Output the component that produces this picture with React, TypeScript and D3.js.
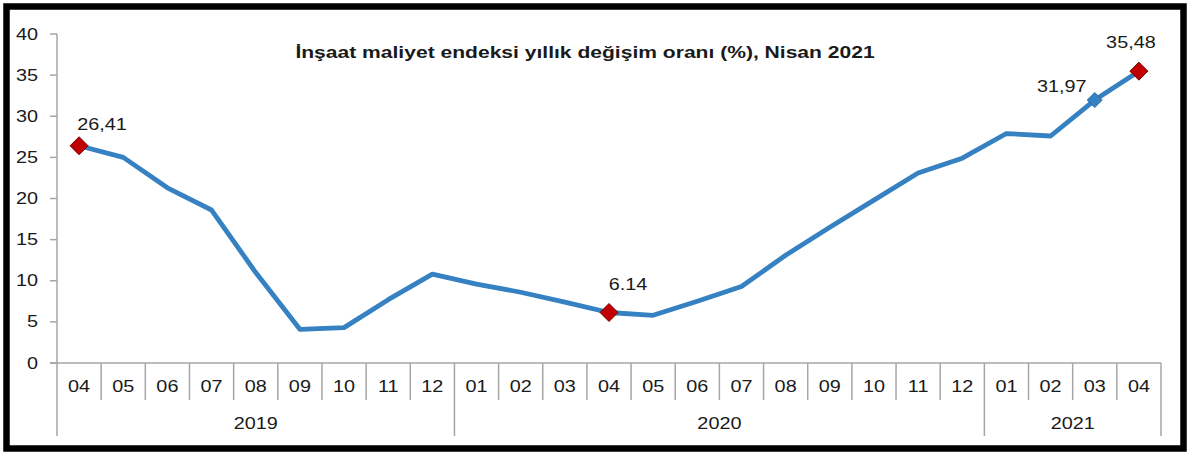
import * as d3 from "d3";

const periods = [
  "2019-04", "2019-05", "2019-06", "2019-07", "2019-08", "2019-09", "2019-10", "2019-11", "2019-12",
  "2020-01", "2020-02", "2020-03", "2020-04", "2020-05", "2020-06", "2020-07", "2020-08", "2020-09",
  "2020-10", "2020-11", "2020-12",
  "2021-01", "2021-02", "2021-03", "2021-04",
];
const values = [
  26.41, 25.0, 21.3, 18.6, 11.0, 4.1, 4.3, 7.7, 10.8,
  9.6, 8.6, 7.4, 6.14, 5.8, 7.5, 9.3, 13.1, 16.5,
  19.8, 23.1, 24.9,
  27.9, 27.6, 31.97, 35.48,
];
const yTicks = [0, 5, 10, 15, 20, 25, 30, 35, 40];
const years = ["2019", "2020", "2021"];

// highlighted points: index, marker colour, label text, label offset
const callouts = [
  { i: 0, fill: "#C00000", text: "26,41", dx: 23, dy: -16 },
  { i: 12, fill: "#C00000", text: "6.14", dx: 19, dy: -22 },
  { i: 23, fill: "#3581C2", text: "31,97", dx: -33, dy: -8 },
  { i: 24, fill: "#C00000", text: "35,48", dx: -8, dy: -23 },
];

const W = 1200;
const H = 468;
const left = 57;
const right = 1161;
const top = 34;
const bottom = 363;
const FONT = "Arial, 'Liberation Sans', sans-serif";
const SX = 1.24; // the source picture is stretched sideways
const AXIS = "#A6A6A6";

function Txt({ x, y, children, anchor = "middle", size = 16, weight = 400 }: any) {
  return (
    <text
      transform={`translate(${x},${y}) scale(${SX},1)`}
      textAnchor={anchor}
      fontSize={size}
      fontWeight={weight}
      fontFamily={FONT}
      fill="#1a1a1a"
    >
      {children}
    </text>
  );
}

export default function App() {
  const x = d3.scaleBand<string>().domain(periods).range([left, right]).padding(0);
  const y = d3.scaleLinear().domain([0, 40]).range([bottom, top]);
  const bw = x.bandwidth();
  const cx = (i: number) => (x(periods[i]) as number) + bw / 2;

  const line = d3
    .line<number>()
    .x((_, i) => cx(i))
    .y((d) => y(d));

  const isYearStart = (i: number) => i === 0 || periods[i].endsWith("-01");

  const yearGroups = years.map((yr) => {
    const idx = periods.map((p, i) => (p.startsWith(yr) ? i : -1)).filter((i) => i >= 0);
    const x0 = x(periods[idx[0]]) as number;
    const x1 = (x(periods[idx[idx.length - 1]]) as number) + bw;
    return { yr, mid: (x0 + x1) / 2 };
  });

  const diamond = (px: number, py: number, r: number) =>
    `M${px},${py - r}L${px + r},${py}L${px},${py + r}L${px - r},${py}Z`;

  return (
    <svg
      width={W}
      height={H}
      style={{ position: "absolute", left: 0, top: 0, background: "#fff" }}
    >
      <rect x={6.5} y={6.5} width={1177} height={442} fill="#fff" stroke="#000" strokeWidth={6.5} />

      <Txt x={585} y={58} size={17} weight={700}>
        İnşaat maliyet endeksi yıllık değişim oranı (%), Nisan 2021
      </Txt>

      {/* y axis */}
      <line x1={left} x2={left} y1={top} y2={bottom} stroke={AXIS} strokeWidth={1.5} />
      {yTicks.map((t) => (
        <g key={t}>
          <line x1={left - 7} x2={left} y1={y(t)} y2={y(t)} stroke={AXIS} strokeWidth={1.5} />
          <Txt x={38} y={y(t) + 5.5} anchor="end">
            {t}
          </Txt>
        </g>
      ))}

      {/* x axis */}
      <line x1={left - 7} x2={right} y1={bottom} y2={bottom} stroke={AXIS} strokeWidth={1.5} />
      {periods.map((p, i) => (
        <line
          key={"s" + p}
          x1={x(p) as number}
          x2={x(p) as number}
          y1={bottom}
          y2={isYearStart(i) ? 436 : 400}
          stroke={AXIS}
          strokeWidth={1.5}
        />
      ))}
      <line x1={right} x2={right} y1={bottom} y2={436} stroke={AXIS} strokeWidth={1.5} />
      {periods.map((p, i) => (
        <Txt key={"m" + p} x={cx(i)} y={392}>
          {p.slice(5)}
        </Txt>
      ))}
      {yearGroups.map((g) => (
        <Txt key={g.yr} x={g.mid} y={429}>
          {g.yr}
        </Txt>
      ))}

      {/* series */}
      <path d={line(values) as string} fill="none" stroke="#3581C2" strokeWidth={4.8} strokeLinejoin="round" />

      {callouts.map((c) => (
        <g key={c.i}>
          <path
            d={diamond(cx(c.i), y(values[c.i]), c.fill === "#C00000" ? 9 : 7.5)}
            fill={c.fill}
            stroke={c.fill === "#C00000" ? "#7A0000" : "#2C6FA8"}
            strokeWidth={1}
          />
          <Txt x={cx(c.i) + c.dx} y={y(values[c.i]) + c.dy}>
            {c.text}
          </Txt>
        </g>
      ))}
    </svg>
  );
}
